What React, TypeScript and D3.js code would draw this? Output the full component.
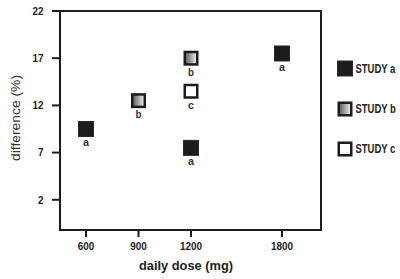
import React from "react";
import * as d3 from "d3";

const studyA = [
  { dose: 600, diff: 9.5 },
  { dose: 1200, diff: 7.5 },
  { dose: 1800, diff: 17.5 },
];
const studyB = [
  { dose: 900, diff: 12.5 },
  { dose: 1200, diff: 17 },
];
const studyC = [{ dose: 1200, diff: 13.5 }];
const xTicks = [600, 900, 1200, 1800];
const yTicks = [2, 7, 12, 17, 22];
const studies = [
  { key: "a", name: "STUDY a", data: studyA },
  { key: "b", name: "STUDY b", data: studyB },
  { key: "c", name: "STUDY c", data: studyC },
];

const FONT = "'Liberation Sans', Arial, sans-serif";

export default function App() {
  const W = 400, H = 279;
  const left = 60, right = 321, top = 11, bottom = 230;
  const x = d3.scaleLinear().domain([600, 1200, 1800]).range([86, 191, 282]);
  const y = d3.scaleLinear().domain([-1.2, 22]).range([bottom, top]);
  const S = 15;
  const digitW = (s: string, fs: number) => s.length * 0.556 * fs * 0.9;

  const marker = (key: string, cx: number, cy: number, k: string) => {
    if (key === "a")
      return <rect key={k} x={cx - S / 2} y={cy - S / 2} width={S} height={S} fill="#1c1c1c" stroke="#2a2a2a" strokeWidth={1} />;
    if (key === "b")
      return <rect key={k} x={cx - S / 2 + 1.25} y={cy - S / 2 + 1.25} width={S - 2.5} height={S - 2.5} fill="url(#gradB)" stroke="#1c1c1c" strokeWidth={2.5} />;
    return <rect key={k} x={cx - S / 2 + 1.25} y={cy - S / 2 + 1.25} width={S - 2.5} height={S - 2.5} fill="#fff" stroke="#1c1c1c" strokeWidth={2.5} />;
  };

  return (
    <svg width={W} height={H} style={{ position: "absolute", left: 0, top: 0, background: "#fff" }}>
      <defs>
        <linearGradient id="gradB" x1="0" x2="1" y1="0" y2="0">
          <stop offset="0" stopColor="#555" />
          <stop offset="1" stopColor="#f4f4f4" />
        </linearGradient>
      </defs>
      <rect x={left} y={top} width={right - left} height={bottom - top} fill="none" stroke="#1c1c1c" strokeWidth={2} />
      {yTicks.map((t) => (
        <g key={"y" + t}>
          <line x1={left - 8} x2={left} y1={y(t)} y2={y(t)} stroke="#1c1c1c" strokeWidth={2} />
          <text x={left - 16.5 - digitW(String(t), 11)} y={y(t)} dy="0.35em" textLength={digitW(String(t), 11)} lengthAdjust="spacingAndGlyphs" fontFamily={FONT} fontWeight="bold" fontSize={11} fill="#222">{t}</text>
        </g>
      ))}
      {xTicks.map((t) => (
        <g key={"x" + t}>
          <line x1={x(t)} x2={x(t)} y1={bottom} y2={bottom + 7} stroke="#1c1c1c" strokeWidth={2} />
          <text x={x(t) - digitW(String(t), 11) / 2} y={250} textLength={digitW(String(t), 11)} lengthAdjust="spacingAndGlyphs" fontFamily={FONT} fontWeight="bold" fontSize={11} fill="#222">{t}</text>
        </g>
      ))}
      <text x={139} y={270} textLength={94} lengthAdjust="spacingAndGlyphs" fontFamily={FONT} fontWeight="bold" fontSize={13.5} fill="#222">daily dose (mg)</text>
      <text transform="translate(20,161) rotate(-90)" textLength={86} lengthAdjust="spacingAndGlyphs" fontFamily={FONT} fontSize={13} fill="#333">difference (%)</text>
      {studies.map((s) =>
        s.data.map((d, i) => (
          <g key={s.key + i}>
            {marker(s.key, x(d.dose), y(d.diff), "m")}
            <text x={x(d.dose) - 3} y={y(d.diff) + 17.5} textLength={6} lengthAdjust="spacingAndGlyphs" fontFamily={FONT} fontWeight="bold" fontSize={11} fill="#333">{s.key}</text>
          </g>
        ))
      )}
      {studies.map((s, i) => {
        const ly = [68.5, 109, 149][i];
        return (
          <g key={"l" + s.key}>
            {marker(s.key, 345, ly, "lm")}
            <text transform={`translate(355.5,${ly}) scale(0.79,1)`} dy="0.35em" fontFamily={FONT} fontWeight="bold" fontSize={12} fill="#222">{s.name}</text>
          </g>
        );
      })}
    </svg>
  );
}
